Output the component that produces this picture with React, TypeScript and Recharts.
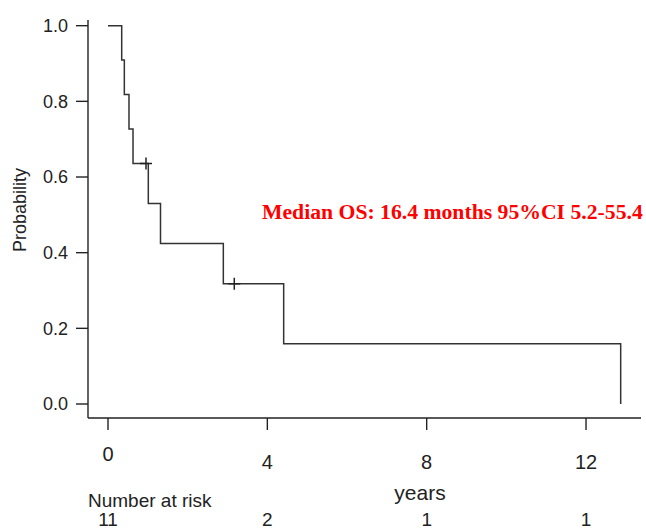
import { ComposedChart, Line, Scatter, XAxis, YAxis } from "recharts";

// Kaplan-Meier estimate (time in years, survival probability)
const times = [0, 0.344, 0.41, 0.527, 0.628, 1.012, 1.318, 2.895, 4.41, 12.87];
const survival = [1.0, 0.909, 0.818, 0.727, 0.636, 0.53, 0.424, 0.318, 0.159, 0];

// censored observations
const censorTimes = [0.954, 3.17];
const censorSurvival = [0.636, 0.318];

const xTicks = [0, 4, 8, 12];
const yTicks = [0, 0.2, 0.4, 0.6, 0.8, 1.0];
const atRisk = [11, 2, 1, 1];

const curve = times.map((t, i) => ({ t, s: survival[i] }));
const censored = censorTimes.map((t, i) => ({ t, s: censorSurvival[i] }));

const font = "'Liberation Sans', Arial, Helvetica, sans-serif";
const ink = "#222";

function XTick(props: any) {
  const { x, y, payload } = props;
  const idx = xTicks.indexOf(payload.value);
  // the 0 label sits a little higher than the others
  const dy = payload.value === 0 ? 22 : 30;
  return (
    <g>
      <text x={x} y={y + dy} textAnchor="middle" dominantBaseline="central"
        fontSize={20} fontFamily={font} fill={ink}>
        {payload.value}
      </text>
      <text x={x} y={y + 87} textAnchor="middle" dominantBaseline="central"
        fontSize={19} fontFamily={font} fill={ink}>
        {atRisk[idx]}
      </text>
    </g>
  );
}

function Plus(props: any) {
  const { cx, cy } = props;
  return (
    <path d={`M${cx - 6},${cy}H${cx + 6}M${cx},${cy - 6}V${cy + 6}`}
      stroke={ink} strokeWidth={1.5} fill="none" />
  );
}

export default function App() {
  return (
    <div style={{ position: "absolute", left: 0, top: 0, background: "#fff" }}>
      <ComposedChart width={646} height={531}
        margin={{ top: 20, right: 5, left: 0, bottom: 0 }}>
        <XAxis
          type="number"
          dataKey="t"
          domain={[-0.502, 13.38]}
          ticks={xTicks}
          allowDataOverflow
          height={113}
          tickSize={12}
          tick={<XTick />}
          axisLine={{ stroke: ink, strokeWidth: 1.4 }}
          tickLine={{ stroke: ink, strokeWidth: 1.4 }}
        />
        <YAxis
          type="number"
          dataKey="s"
          domain={[-0.037, 1.015]}
          ticks={yTicks}
          allowDataOverflow
          width={88}
          tickSize={12}
          tickMargin={8}
          tickFormatter={(v: number) => v.toFixed(1)}
          tick={{ fontSize: 18, fontFamily: font, fill: ink }}
          axisLine={{ stroke: ink, strokeWidth: 1.4 }}
          tickLine={{ stroke: ink, strokeWidth: 1.4 }}
          label={{
            content: () => (
              <text x={20} y={210} transform="rotate(-90,20,210)" textAnchor="middle"
                dominantBaseline="central" fontSize={18} fontFamily={font} fill={ink}>
                Probability
              </text>
            ),
          }}
        />
        <Line
          data={curve}
          dataKey="s"
          type="stepAfter"
          stroke="#333"
          strokeWidth={1.5}
          dot={false}
          activeDot={false}
          isAnimationActive={false}
        />
        <Scatter data={censored} dataKey="s" shape={<Plus />} isAnimationActive={false} />
        <text x={88} y={500} dominantBaseline="central" fontSize={19} fontFamily={font} fill={ink}>
          Number at risk
        </text>
        <text x={420} y={492} textAnchor="middle" dominantBaseline="central"
          fontSize={21} fontFamily={font} fill={ink}>
          years
        </text>
        <text x={262} y={212} dominantBaseline="central" fontSize={21.7}
          fontFamily="'Liberation Serif', 'Times New Roman', serif" fontWeight="bold" fill="#ff0000">
          Median OS: 16.4 months 95%CI 5.2-55.4
        </text>
      </ComposedChart>
    </div>
  );
}
